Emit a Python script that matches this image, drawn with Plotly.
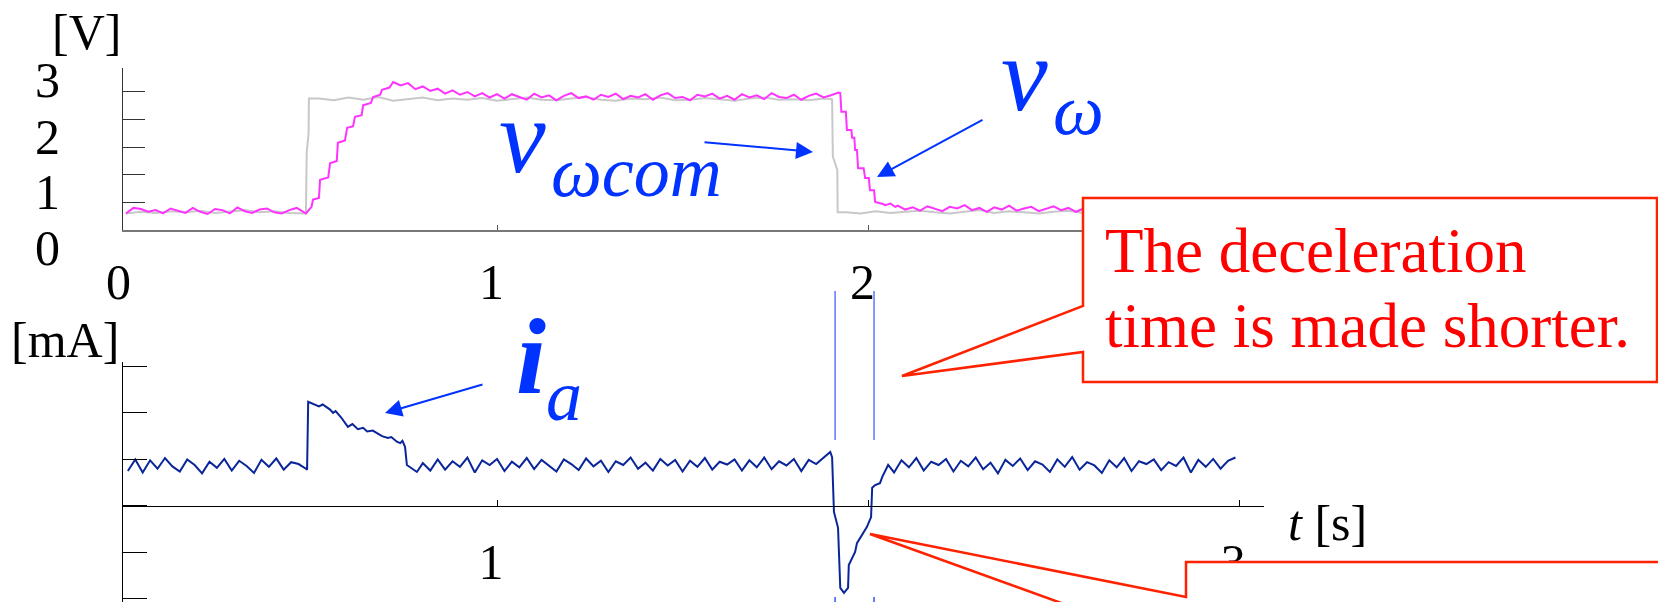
import plotly.graph_objects as go

# ---------------- data ----------------
# speed command v_wcom [V]: low / step / high / step / low
gray_low1 = [0.30, 0.33, 0.31, 0.34, 0.32, 0.35, 0.31, 0.33, 0.36, 0.32, 0.34, 0.31, 0.30]
gray_rise_t = [0.485, 0.487, 0.492, 0.493]
gray_rise_v = [0.30, 1.40, 1.75, 2.38]
gray_high = [2.38, 2.35, 2.40, 2.36, 2.41, 2.34, 2.37, 2.40, 2.35, 2.38, 2.36, 2.39, 2.34, 2.37,
             2.40, 2.36, 2.35, 2.38, 2.41, 2.36, 2.34, 2.38, 2.37, 2.40, 2.35, 2.36, 2.39, 2.37,
             2.34, 2.38, 2.40, 2.36, 2.37, 2.35, 2.38]
gray_fall_t = [1.903, 1.905, 1.917, 1.918]
gray_fall_v = [2.37, 1.33, 1.09, 0.32]
gray_low2 = [0.32, 0.30, 0.34, 0.31, 0.33, 0.35, 0.32, 0.30, 0.33, 0.36, 0.31, 0.34, 0.32, 0.30,
             0.33, 0.35, 0.31, 0.34, 0.32, 0.33, 0.30, 0.35, 0.32, 0.34, 0.31, 0.33, 0.32]

# measured speed v_w [V]
mag_low1 = [0.30, 0.40, 0.38, 0.33, 0.36, 0.30, 0.39, 0.35, 0.31, 0.40, 0.33, 0.29, 0.38, 0.36,
            0.30, 0.41, 0.34, 0.31, 0.37, 0.39, 0.32, 0.30, 0.36, 0.40, 0.33]
mag_rise_t = [0.485, 0.500, 0.504, 0.520, 0.523, 0.545, 0.550, 0.568, 0.571, 0.590, 0.596, 0.612,
              0.617, 0.635, 0.639, 0.660, 0.666, 0.685, 0.690, 0.710, 0.720, 0.740, 0.760, 0.780,
              0.800, 0.820, 0.840, 0.860, 0.880, 0.900, 0.920, 0.940, 0.960, 0.980, 1.000]
mag_rise_v = [0.30, 0.42, 0.55, 0.58, 0.91, 0.95, 1.21, 1.25, 1.58, 1.62, 1.85, 1.88,
              2.05, 2.08, 2.26, 2.30, 2.41, 2.45, 2.54, 2.58, 2.68, 2.62, 2.66, 2.55,
              2.60, 2.52, 2.56, 2.47, 2.53, 2.45, 2.50, 2.42, 2.48, 2.40, 2.46]
mag_high = [2.38, 2.46, 2.41, 2.36, 2.47, 2.40, 2.44, 2.35, 2.43, 2.48, 2.39, 2.42, 2.36, 2.45,
            2.41, 2.47, 2.37, 2.43, 2.40, 2.46, 2.36, 2.44, 2.48, 2.39, 2.41, 2.35, 2.45, 2.42,
            2.47, 2.38, 2.43, 2.36, 2.46, 2.40, 2.44, 2.37, 2.48, 2.41, 2.39, 2.45, 2.36, 2.43,
            2.47, 2.40, 2.44, 2.49]
mag_fall_t = [1.925, 1.928, 1.940, 1.943, 1.955, 1.957, 1.963, 1.965, 1.970, 1.973, 1.988, 1.992,
              2.002, 2.005, 2.016, 2.019, 2.040, 2.046, 2.060, 2.073]
mag_fall_v = [2.48, 2.14, 2.14, 1.81, 1.81, 1.67, 1.67, 1.45, 1.45, 1.12, 1.12, 0.94,
              0.94, 0.72, 0.72, 0.51, 0.47, 0.45, 0.48, 0.42]
mag_low2 = [0.44, 0.37, 0.41, 0.35, 0.43, 0.38, 0.34, 0.42, 0.39, 0.45, 0.36, 0.40, 0.33, 0.41,
            0.37, 0.44, 0.35, 0.39, 0.42, 0.34, 0.38, 0.43, 0.36, 0.40, 0.33, 0.39, 0.44, 0.35,
            0.41, 0.37, 0.34, 0.42, 0.38, 0.36, 0.43, 0.33, 0.40, 0.37, 0.41, 0.35, 0.39, 0.34,
            0.42, 0.36, 0.38, 0.40, 0.35]

# armature current i_a [mA]
ia_low1 = [75, 100, 72, 98, 80, 103, 85, 74, 100, 88, 70, 95, 82, 101, 76, 97, 86, 71, 99, 84,
           102, 78, 94, 90, 80]
ia_acc_t = [0.488, 0.491, 0.500, 0.520, 0.530, 0.542, 0.550, 0.558, 0.565, 0.580, 0.598, 0.610,
            0.625, 0.639, 0.650, 0.665, 0.677, 0.690, 0.706, 0.715, 0.730, 0.739, 0.745, 0.752,
            0.757, 0.770, 0.784, 0.800, 0.820]
ia_acc_v = [78, 224, 221, 214, 218, 211, 207, 200, 204, 190, 170, 176,
            165, 168, 160, 162, 157, 150, 146, 148, 138, 135, 140, 127,
            88, 80, 73, 92, 76]
ia_mid = [100, 78, 96, 84, 104, 72, 98, 88, 101, 75, 95, 83, 103, 79, 99, 86, 74, 100, 90, 77,
          102, 85, 97, 73, 96, 88, 104, 80, 93, 76, 101, 87, 99, 74, 97, 84, 103, 78, 95, 89,
          100, 76, 98, 83, 104, 79, 96, 87, 101, 75, 99, 90, 104]
ia_dec_t = [1.898, 1.903, 1.908, 1.919, 1.925, 1.935, 1.946, 1.948, 1.960, 1.965, 1.970, 1.987,
            1.997, 2.008, 2.011, 2.019, 2.032, 2.038, 2.046, 2.054]
ia_dec_v = [116, 105, -13, -47, -176, -187, -176, -127, -105, -99, -80, -58,
            -45, -24, 39, 45, 49, 62, 77, 88]
ia_low2 = [72, 98, 83, 103, 76, 95, 88, 101, 74, 97, 85, 104, 79, 93, 70, 99, 86, 102, 77, 96,
           89, 73, 100, 84, 105, 78, 94, 87, 71, 98, 83, 103, 75, 96, 90, 100, 77, 94, 86, 104,
           72, 99, 84, 101, 80, 97, 104]

# deceleration interval markers [s]
decel_marks = [1.911, 2.016]

v_ticks = [0.5, 1.0, 1.5, 2.0, 2.5]
v_labels = ["0", "1", "2", "3"]
t_labels = ["0", "1", "2"]
ia_ticks = [-200, -100, 0, 100, 200, 300]


def grid(t0, dt, vals):
    return [round(t0 + dt * i, 4) for i in range(len(vals))]


gray_t = grid(0.0, 0.04, gray_low1) + gray_rise_t + grid(0.52, 0.04, gray_high) + gray_fall_t + grid(1.94, 0.04, gray_low2)
gray_v = gray_low1 + gray_rise_v + gray_high + gray_fall_v + gray_low2
mag_t = grid(0.0, 0.02, mag_low1) + mag_rise_t + grid(1.02, 0.02, mag_high) + mag_fall_t + grid(2.08, 0.02, mag_low2)
mag_v = mag_low1 + mag_rise_v + mag_high + mag_fall_v + mag_low2
ia_t = grid(0.005, 0.02, ia_low1) + ia_acc_t + grid(0.84, 0.02, ia_mid) + ia_dec_t + grid(2.07, 0.02, ia_low2)
ia_v = ia_low1 + ia_acc_v + ia_mid + ia_dec_v + ia_low2

# ---------------- geometry (pixels of the 1658x602 page) ----------------
W, H = 1658, 602
SERIF = "Liberation Serif"
BLUE = "#0033ff"
RED = "#ff0000"


def fx(x):
    return x / W


def fy(y):
    return 1 - y / H


def path(points):
    s = "M " + " L ".join(f"{fx(x):.5f},{fy(y):.5f}" for x, y in points)
    return s + " Z"


X_DOM = [fx(123), fx(1264)]
T_RANGE = [-0.0081, 3.067]

fig = go.Figure()
fig.add_trace(go.Scatter(x=gray_t, y=gray_v, mode="lines", line=dict(color="#c8c8c8", width=2),
                         xaxis="x", yaxis="y", hoverinfo="skip", showlegend=False))
fig.add_trace(go.Scatter(x=mag_t, y=mag_v, mode="lines", line=dict(color="#ff33ff", width=2),
                         xaxis="x", yaxis="y", hoverinfo="skip", showlegend=False))
fig.add_trace(go.Scatter(x=ia_t, y=ia_v, mode="lines", line=dict(color="#0a2599", width=2),
                         xaxis="x2", yaxis="y2", hoverinfo="skip", showlegend=False))

shapes = []
# deceleration interval markers
for tm in decel_marks:
    shapes.append(dict(type="line", xref="x2", yref="paper", x0=tm, x1=tm, y0=fy(440), y1=fy(291),
                       line=dict(color="#3355ff", width=1.2)))
    shapes.append(dict(type="line", xref="x2", yref="paper", x0=tm, x1=tm, y0=fy(606), y1=fy(597),
                       line=dict(color="#3355ff", width=1.5)))
# callout boxes
shapes.append(dict(type="path", xref="paper", yref="paper", layer="above",
                   path=path([(1083, 198), (1657, 198), (1657, 382), (1083, 382), (1083, 352),
                              (902, 376), (1083, 306)]),
                   fillcolor="white", line=dict(color="#ff2200", width=2.5)))
shapes.append(dict(type="path", xref="paper", yref="paper", layer="above",
                   path=path([(1186, 562), (1720, 562), (1720, 720), (1186, 720), (1186, 648),
                              (870, 534), (1186, 597)]),
                   fillcolor="white", line=dict(color="#ff2200", width=2.5)))

anns = []


def text(s, x, y, size, color="black", xanchor="center"):
    anns.append(dict(text=s, x=fx(x), y=fy(y), xref="paper", yref="paper", showarrow=False,
                     xanchor=xanchor, yanchor="middle",
                     font=dict(family=SERIF, size=size, color=color)))


def arrow(hx, hy, tx, ty):
    anns.append(dict(text="", x=fx(hx), y=fy(hy), xref="paper", yref="paper", showarrow=True,
                     ax=tx - hx, ay=ty - hy, axref="pixel", ayref="pixel",
                     arrowhead=2, arrowsize=1.7, arrowwidth=2, arrowcolor=BLUE, standoff=0))


# axis labels and tick labels
text("[V]", 86, 32, 50)
text("[mA]", 65, 340, 50)
text("<i>t</i> [s]", 1327, 523, 50)
for lab, yy in zip(v_labels, [248, 192, 137, 80]):
    text(lab, 47, yy, 50)
for lab, xx in zip(t_labels, [118, 491, 862]):
    text(lab, xx, 282, 50)

# signal names
text("<i>v</i>", 497, 136, 105, BLUE, "left")
text("<i>ωcom</i>", 549, 172, 72, BLUE, "left")
text("<i>v</i>", 999, 74, 105, BLUE, "left")
text("<i>ω</i>", 1051, 110, 72, BLUE, "left")
text("<b><i>i</i></b>", 514, 356, 108, BLUE, "left")
text("<i>a</i>", 544, 396, 72, BLUE, "left")
arrow(813, 152, 703, 142)
arrow(877, 177, 984, 119)
arrow(385, 413, 484, 384)

# callout text
text("The deceleration", 1103, 251, 63, RED, "left")
text("time is made shorter.", 1103, 326, 63, RED, "left")

fig.update_layout(
    width=W, height=H, margin=dict(l=0, r=0, t=0, b=0),
    paper_bgcolor="white", plot_bgcolor="white",
    shapes=shapes, annotations=anns,
    xaxis=dict(domain=X_DOM, range=T_RANGE, anchor="y", showline=True, linecolor="#777777",
               linewidth=1.5, ticks="inside", ticklen=5, tickcolor="#555555", tickvals=[1, 2, 3],
               showticklabels=False, showgrid=False, zeroline=False, fixedrange=True),
    yaxis=dict(domain=[fy(230), fy(67.7)], range=[0, 2.94], anchor="x", showline=True,
               linecolor="#333333", linewidth=1.2, ticks="inside", ticklen=22, tickcolor="#333333",
               tickvals=v_ticks, showticklabels=False, showgrid=False, zeroline=False, fixedrange=True),
    xaxis2=dict(domain=X_DOM, range=T_RANGE, anchor="free", position=fy(506), showline=True,
                linecolor="black", linewidth=1.2, ticks="inside", ticklen=6, tickcolor="black",
                tickvals=[1, 2, 3], ticktext=["1", "", "3"], ticklabelshift=-6,
                ticklabelstandoff=12, tickfont=dict(family=SERIF, size=50, color="black"),
                showgrid=False, zeroline=False, fixedrange=True),
    yaxis2=dict(domain=[0, fy(361.7)], range=[-206.5, 310], anchor="x2", showline=True,
                linecolor="black", linewidth=1.2, ticks="inside", ticklen=24, tickcolor="black",
                tickvals=ia_ticks, showticklabels=False, showgrid=False, zeroline=False,
                fixedrange=True),
)

fig.write_html("out.html")
